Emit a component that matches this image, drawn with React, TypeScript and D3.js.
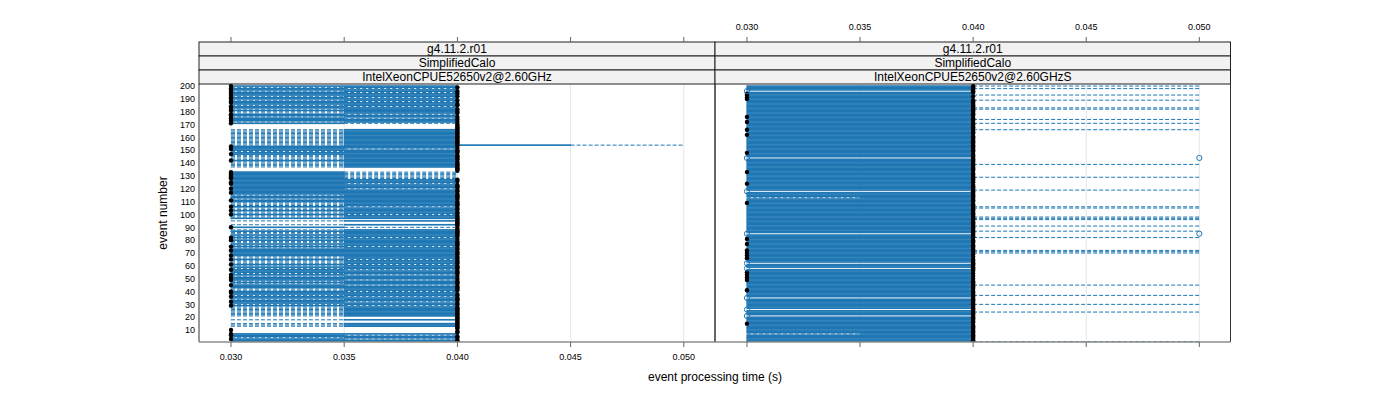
import React from 'react';
import * as d3 from 'd3';

// ---------- data ----------
const stripLabelsLeft = ['g4.11.2.r01', 'SimplifiedCalo', 'IntelXeonCPUE52650v2@2.60GHz'];
const stripLabelsRight = ['g4.11.2.r01', 'SimplifiedCalo', 'IntelXeonCPUE52650v2@2.60GHzS'];

const xTicks = [0.03, 0.035, 0.04, 0.045, 0.05];
const xTickLabels = ['0.030', '0.035', '0.040', '0.045', '0.050'];
const yTicks = [10, 20, 30, 40, 50, 60, 70, 80, 90, 100, 110, 120, 130, 140, 150, 160, 170, 180, 190, 200];
const nEvents = 200;

// box stats per code: [lo, q1, median, q3, hi]
const leftCodeStats: Record<string, number[]> = {
  F: [0.03, 0.03, 0.04, 0.04, 0.04],
  f: [0.03, 0.03, 0.03, 0.04, 0.04],
  R: [0.03, 0.035, 0.04, 0.04, 0.04],
  L: [0.03, 0.03, 0.03, 0.035, 0.04],
  Z: [0.04, 0.04, 0.04, 0.04, 0.04],
  z: [0.03, 0.03, 0.03, 0.03, 0.03],
  X: [0.03, 0.035, 0.04, 0.045, 0.05],
};
// left panel, event 200 first (top) down to event 1
const leftCodesTopDown =
  'fRLfRLFfRLfRLfFRLf' + 'RfRR' + 'LfRLFfRL' + 'ZZZZ' + 'RRRRRRRR' + 'RRRR' + 'X' +
  'fFLFRFf' + 'RRRRfRRRRR' + 'ZZZ' + 'LLLLLL' + 'FFfLFFFLFFf' + 'FRFFRfFR' +
  'RRLRRfRRLRRF' + 'ZRZZRZLZ' + 'RFRRFRLRfRRFRLR' + 'FfFFFf' + 'RRLRRRLR' +
  'FRLFFRLRfFLRFRLFFRRLfFRLFRFLFRL' + 'RRRRRRRR' + 'ZZRZZ' + 'RRR' + 'ZZzZZ' + 'fLFRLFF';

// right panel: default box [0.030, 0.040] with median 0.040
const rightMedianLow = [194, 193, 191, 190, 176, 172, 166, 162, 148, 133, 124, 109, 81, 77, 72, 70, 68, 66, 55, 53, 51, 49, 41, 15];
const rightWhiskerHigh = [200, 198, 193, 189, 183, 182, 174, 171, 166, 139, 129, 119, 106, 105, 98, 97, 96, 91, 87, 82, 72, 71, 70, 45, 37, 30, 24, 1];
const rightWhiskerLow = [113, 7];
const rightOutlierLow = [196, 118, 62, 58, 35, 26, 21];
const rightOutlierBoth = [144, 85];

// ---------- layout ----------
const W = 1400, H = 400;
const PANEL_TOP = 84, PANEL_BOTTOM = 342;
const STRIP_TOP = 42, STRIP_H = 14;
const xDomain = [0.028587, 0.051378];
const yDomain = [0.7, 201.6];
const BLUE = '#1f77b4';
const FONT = '"Liberation Sans", Arial, Helvetica, sans-serif';

type Stat = { e: number; lo: number; q1: number; med: number; q3: number; hi: number; out: number[] };

function leftStats(): Stat[] {
  const res: Stat[] = [];
  for (let i = 0; i < leftCodesTopDown.length; i++) {
    const s = leftCodeStats[leftCodesTopDown[i]];
    res.push({ e: nEvents - i, lo: s[0], q1: s[1], med: s[2], q3: s[3], hi: s[4], out: [] });
  }
  return res;
}

function rightStats(): Stat[] {
  const res: Stat[] = [];
  for (let e = 1; e <= nEvents; e++) {
    const st: Stat = { e, lo: 0.03, q1: 0.03, med: 0.04, q3: 0.04, hi: 0.04, out: [] };
    if (rightMedianLow.includes(e)) st.med = 0.03;
    if (rightWhiskerHigh.includes(e)) st.hi = 0.05;
    if (rightWhiskerLow.includes(e)) st.q1 = 0.035;
    if (rightOutlierLow.includes(e) || rightOutlierBoth.includes(e)) {
      st.lo = 0.04; st.q1 = 0.04; st.med = 0.04; st.q3 = 0.04; st.hi = 0.04;
      st.out = rightOutlierBoth.includes(e) ? [0.03, 0.05] : [0.03];
    }
    res.push(st);
  }
  return res;
}

function Panel({ x0, x1, stats, strips, labelsBottom, id }: { x0: number; x1: number; stats: Stat[]; strips: string[]; labelsBottom: boolean; id: string }) {
  const x = d3.scaleLinear().domain(xDomain).range([x0, x1]);
  const y = d3.scaleLinear().domain(yDomain).range([PANEL_BOTTOM, PANEL_TOP]);
  const bh = 0.5 * Math.abs(y(1) - y(0));
  const cx = (x0 + x1) / 2;
  return (
    <g>
      <defs>
        <clipPath id={id}>
          <rect x={x0} y={PANEL_TOP} width={x1 - x0} height={PANEL_BOTTOM - PANEL_TOP} />
        </clipPath>
      </defs>
      {xTicks.map((t) => (
        <line key={'g' + t} x1={x(t)} x2={x(t)} y1={PANEL_TOP} y2={PANEL_BOTTOM} stroke="#e6e6e6" strokeWidth={1} />
      ))}
      <g clipPath={`url(#${id})`}>
        {stats.map((s) => (
          <g key={'w' + s.e}>
            {s.lo < s.q1 && (
              <line x1={x(s.lo)} x2={x(s.q1)} y1={y(s.e)} y2={y(s.e)} stroke={BLUE} strokeWidth={1} strokeDasharray="4,2" />
            )}
            {s.hi > s.q3 && (
              <line x1={x(s.q3)} x2={x(s.hi)} y1={y(s.e)} y2={y(s.e)} stroke={BLUE} strokeWidth={1} strokeDasharray="4,2" />
            )}
          </g>
        ))}
        {stats.map((s) =>
          s.q3 > s.q1 ? (
            <rect key={'b' + s.e} x={x(s.q1)} y={y(s.e) - bh / 2} width={x(s.q3) - x(s.q1)} height={bh} fill="none" stroke={BLUE} strokeWidth={1} />
          ) : null
        )}
        {stats.map((s) => (
          <circle key={'m' + s.e} cx={x(s.med)} cy={y(s.e)} r={2.2} fill="#000" />
        ))}
        {stats.map((s) =>
          s.out.map((o) => (
            <circle key={'o' + s.e + '_' + o} cx={x(o)} cy={y(s.e)} r={2.6} fill="none" stroke={BLUE} strokeWidth={1} />
          ))
        )}
      </g>
      {/* panel border */}
      <line x1={x0} x2={x0} y1={PANEL_TOP} y2={PANEL_BOTTOM} stroke="#333" strokeWidth={1} />
      <line x1={x1} x2={x1} y1={PANEL_TOP} y2={PANEL_BOTTOM} stroke="#333" strokeWidth={1} />
      <line x1={x0} x2={x1} y1={PANEL_BOTTOM} y2={PANEL_BOTTOM} stroke="#8c8c8c" strokeWidth={1.5} />
      {/* strips */}
      {strips.map((s, i) => (
        <g key={'s' + i}>
          <rect x={x0} y={STRIP_TOP + i * STRIP_H} width={x1 - x0} height={STRIP_H} fill="#f2f2f2" stroke="#222" strokeWidth={1} />
          <text x={cx} y={STRIP_TOP + i * STRIP_H + 11} textAnchor="middle" fontSize={12} fontFamily={FONT} fill="#000">
            {s}
          </text>
        </g>
      ))}
      {/* ticks */}
      {xTicks.map((t, i) => (
        <g key={'t' + t}>
          <line x1={x(t)} x2={x(t)} y1={PANEL_BOTTOM} y2={PANEL_BOTTOM + 5} stroke="#666" strokeWidth={1} />
          <line x1={x(t)} x2={x(t)} y1={STRIP_TOP - 5} y2={STRIP_TOP} stroke="#666" strokeWidth={1} />
          {labelsBottom ? (
            <text x={x(t)} y={PANEL_BOTTOM + 18} textAnchor="middle" fontSize={9} fontFamily={FONT} fill="#000">
              {xTickLabels[i]}
            </text>
          ) : (
            <text x={x(t)} y={STRIP_TOP - 12} textAnchor="middle" fontSize={9} fontFamily={FONT} fill="#000">
              {xTickLabels[i]}
            </text>
          )}
        </g>
      ))}
    </g>
  );
}

export default function App() {
  const lStats = leftStats();
  const rStats = rightStats();
  const y = d3.scaleLinear().domain(yDomain).range([PANEL_BOTTOM, PANEL_TOP]);
  return (
    <svg width={W} height={H} viewBox={`0 0 ${W} ${H}`} style={{ position: 'absolute', left: 0, top: 0, background: '#fff' }}>
      <rect x={0} y={0} width={W} height={H} fill="#fff" />
      <Panel x0={199} x1={715} stats={lStats} strips={stripLabelsLeft} labelsBottom={true} id="clipL" />
      <Panel x0={715} x1={1230.5} stats={rStats} strips={stripLabelsRight} labelsBottom={false} id="clipR" />
      {yTicks.map((t) => (
        <text key={'y' + t} x={195} y={y(t) + 3.2} textAnchor="end" fontSize={9} fontFamily={FONT} fill="#000">
          {t}
        </text>
      ))}
      <text x={715} y={381} textAnchor="middle" fontSize={12} fontFamily={FONT} fill="#000">
        event processing time (s)
      </text>
      <text transform={`translate(167, ${(PANEL_TOP + PANEL_BOTTOM) / 2}) rotate(-90)`} textAnchor="middle" fontSize={12} fontFamily={FONT} fill="#000">
        event number
      </text>
    </svg>
  );
}
